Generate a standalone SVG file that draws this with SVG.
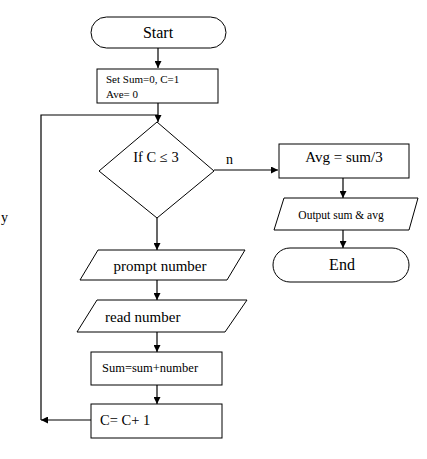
<svg xmlns="http://www.w3.org/2000/svg" width="427" height="459" viewBox="0 0 427 459">
<style>
.s{fill:#fff;stroke:#000;stroke-width:1}
.t{font-family:"Liberation Serif","Times New Roman",serif;fill:#000}
.c{fill:none;stroke:#000;stroke-width:1.2}
</style>
<defs>
<marker id="a" viewBox="0 0 10 10" refX="10" refY="5" markerWidth="7" markerHeight="7" orient="auto" markerUnits="userSpaceOnUse">
<path d="M0,0 L10,5 L0,10 z" fill="#000"/>
</marker>
</defs>
<rect width="427" height="459" fill="#fff"/>
<g id="connectors">
<line class="c" x1="158" y1="48" x2="158" y2="68" marker-end="url(#a)"/>
<line class="c" x1="158" y1="103" x2="158" y2="122" marker-end="url(#a)"/>
<polyline class="c" points="41,420 41,115 158,115"/>
<line class="c" x1="214" y1="170" x2="278" y2="170" marker-end="url(#a)"/>
<line class="c" x1="343" y1="178" x2="343" y2="198" marker-end="url(#a)"/>
<line class="c" x1="343" y1="230" x2="343" y2="248" marker-end="url(#a)"/>
<line class="c" x1="157" y1="218" x2="157" y2="250" marker-end="url(#a)"/>
<line class="c" x1="157" y1="280" x2="157" y2="300" marker-end="url(#a)"/>
<line class="c" x1="157" y1="332" x2="157" y2="352" marker-end="url(#a)"/>
<line class="c" x1="157" y1="385" x2="157" y2="404" marker-end="url(#a)"/>
<line class="c" x1="91" y1="420" x2="41" y2="420" marker-end="url(#a)"/>
<text class="t" x="226" y="164" font-size="14">n</text>
<text class="t" x="1" y="222" font-size="14">y</text>
</g>
<g id="start">
<rect class="s" x="91" y="17" width="135" height="31" rx="15.5"/>
<text class="t" x="158" y="38" font-size="16" text-anchor="middle">Start</text>
</g>
<g id="init">
<rect class="s" x="97" y="69" width="121" height="34"/>
<text class="t" x="106" y="83" font-size="11">Set Sum=0, C=1</text>
<text class="t" x="106" y="98" font-size="11">Ave= 0</text>
</g>
<g id="decision">
<polygon class="s" points="157,122 214,171 157,218 99,171"/>
<text class="t" x="156" y="162" font-size="14.5" text-anchor="middle">If C ≤ 3</text>
</g>
<g id="avg">
<rect class="s" x="279" y="144" width="130" height="34"/>
<text class="t" x="344" y="162" font-size="15" text-anchor="middle">Avg = sum/3</text>
</g>
<g id="output">
<polygon class="s" points="284,198 418,198 409,230 274,230"/>
<text class="t" x="341" y="219" font-size="11.5" text-anchor="middle">Output sum &amp; avg</text>
</g>
<g id="end">
<rect class="s" x="273" y="248" width="136" height="34" rx="17"/>
<text class="t" x="342" y="270" font-size="16" text-anchor="middle">End</text>
</g>
<g id="prompt">
<polygon class="s" points="98,250 245,250 227,280 80,280"/>
<text class="t" x="160" y="271" font-size="15" text-anchor="middle">prompt number</text>
</g>
<g id="read">
<polygon class="s" points="97,300 247,300 225,332 77,332"/>
<text class="t" x="105" y="322" font-size="15">read number</text>
</g>
<g id="sum">
<rect class="s" x="91" y="352" width="131" height="33"/>
<text class="t" x="102" y="372" font-size="12.5">Sum=sum+number</text>
</g>
<g id="incr">
<rect class="s" x="91" y="404" width="131" height="34"/>
<text class="t" x="100" y="425" font-size="14.5">C= C+ 1</text>
</g>
</svg>
